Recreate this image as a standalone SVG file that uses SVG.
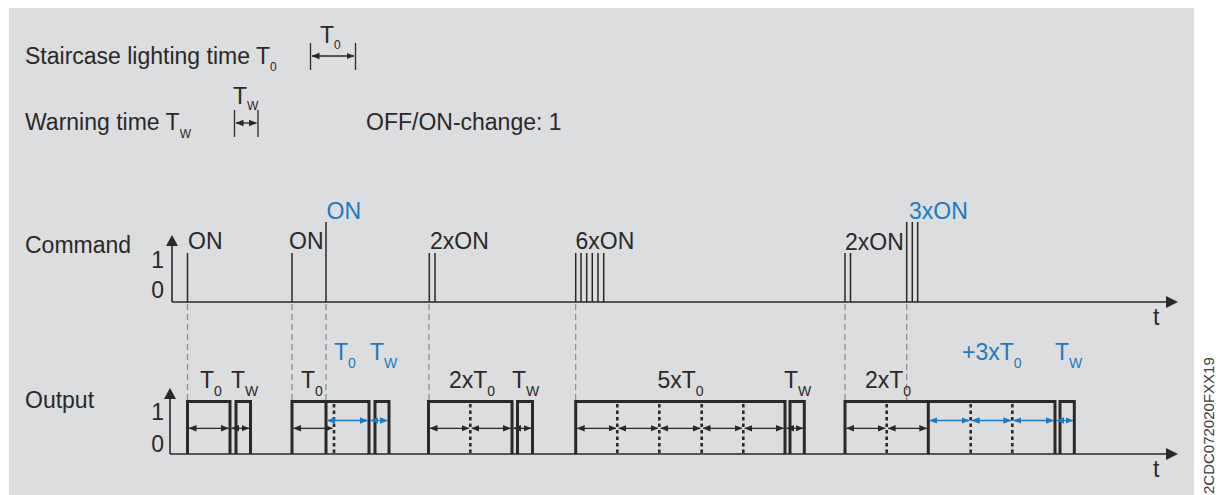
<svg xmlns="http://www.w3.org/2000/svg" width="1227" height="495" viewBox="0 0 1227 495">
<defs>
<style>
text{font-family:"Liberation Sans",Arial,sans-serif;fill:#2a2829}
.lb{font-size:23px}
.sub{font-size:14px}
.bl{fill:#1a7ac4}
.ax{stroke:#2a2829;stroke-width:1.6;fill:none}
.cmd{stroke:#2a2829;stroke-width:1.5;fill:none}
.out{stroke:#2a2829;stroke-width:3;fill:none;stroke-linejoin:miter}
.dot{stroke:#2a2829;stroke-width:2.6;stroke-dasharray:3.5,3;fill:none}
.dash{stroke:#8a8a8c;stroke-width:1.2;stroke-dasharray:6,4;fill:none}
.dim{stroke:#2a2829;stroke-width:1.3;fill:none;marker-start:url(#ak);marker-end:url(#ak)}
.dimb{stroke:#1a7ac4;stroke-width:1.3;fill:none;marker-start:url(#ab);marker-end:url(#ab)}
.leg{stroke:#2a2829;stroke-width:1.3;fill:none}
</style>
<marker id="ak" viewBox="0 0 8 8" refX="7.5" refY="4" markerWidth="8" markerHeight="8" markerUnits="userSpaceOnUse" orient="auto-start-reverse"><path d="M0,0.8 L8,4 L0,7.2 Z" fill="#2a2829"/></marker>
<marker id="ab" viewBox="0 0 8 8" refX="7.5" refY="4" markerWidth="8" markerHeight="8" markerUnits="userSpaceOnUse" orient="auto-start-reverse"><path d="M0,0.8 L8,4 L0,7.2 Z" fill="#1a7ac4"/></marker>
</defs>
<rect x="0" y="0" width="1227" height="495" fill="#ffffff"/>
<rect x="9" y="8" width="1185" height="487" fill="#dcdddf"/>

<g id="legend">
<text class="lb" x="25" y="64">Staircase lighting time T<tspan font-size="12" dy="7">0</tspan></text>
<line class="leg" x1="310.5" y1="43" x2="310.5" y2="70"/>
<line class="leg" x1="355.5" y1="43" x2="355.5" y2="70"/>
<line class="dim" x1="312" y1="56" x2="354" y2="56"/>
<text class="lb" x="320" y="43">T<tspan font-size="12" dy="6">0</tspan></text>
<text class="lb" x="25" y="130">Warning time T<tspan font-size="12" dy="8">W</tspan></text>
<line class="leg" x1="234.5" y1="110" x2="234.5" y2="137"/>
<line class="leg" x1="258" y1="110" x2="258" y2="137"/>
<line class="dim" x1="236" y1="123" x2="256.5" y2="123"/>
<text class="lb" x="233" y="104">T<tspan font-size="12" dy="6">W</tspan></text>
<text class="lb" x="366" y="130">OFF/ON-change: 1</text>
</g>

<g id="command">
<text class="lb" x="25" y="253">Command</text>
<text class="lb" x="164" y="267.5" text-anchor="end">1</text>
<text class="lb" x="164" y="297.7" text-anchor="end">0</text>
<path class="ax" d="M172,302 V243 M172,302 H1168"/>
<path d="M166,246 L172,235 L178,246 Z" fill="#2a2829"/>
<path d="M1166,296 L1178,302 L1166,308 Z" fill="#2a2829"/>
<text class="lb" x="1153" y="325">t</text>
<path class="cmd" d="M187.5,302 V253 M292,302 V253 M326,302 V222 M429.3,302 V253 M435,302 V253 M575.7,302 V253 M581,302 V253 M586.7,302 V253 M592.3,302 V253 M598,302 V253 M603.7,302 V253 M845,302 V253 M850.5,302 V253 M906.7,302 V222 M912.3,302 V222 M917.7,302 V222"/>
<text class="lb" x="188" y="249">ON</text>
<text class="lb" x="289" y="249">ON</text>
<text class="lb bl" x="326.5" y="219">ON</text>
<text class="lb" x="430" y="249">2xON</text>
<text class="lb" x="575.5" y="249">6xON</text>
<text class="lb" x="845" y="250">2xON</text>
<text class="lb bl" x="909" y="219">3xON</text>
</g>

<g id="connectors">
<path class="dash" d="M187.5,304 V400 M292,304 V400 M326,304 V400 M429,304 V400 M575.7,304 V400 M845,304 V400 M906.7,304 V400"/>
</g>

<g id="output">
<text class="lb" x="25" y="407.5">Output</text>
<text class="lb" x="164" y="420" text-anchor="end">1</text>
<text class="lb" x="164" y="451.5" text-anchor="end">0</text>
<path class="ax" d="M170,454 V397 M170,454 H1168"/>
<path d="M164,399 L170,388 L176,399 Z" fill="#2a2829"/>
<path d="M1166,448 L1178,454 L1166,460 Z" fill="#2a2829"/>
<text class="lb" x="1153" y="477">t</text>
</g>

<g id="pulse1">
<path class="out" d="M187.5,454 V401.5 H230 V454 M236,454 V401.5 H250.5 V454"/>
<line class="dim" x1="189" y1="428.3" x2="228.5" y2="428.3"/>
<line class="dim" x1="231.5" y1="428.3" x2="249" y2="428.3"/>
<text class="lb" x="200" y="388">T<tspan class="sub" dy="8">0</tspan></text>
<text class="lb" x="231" y="388">T<tspan class="sub" dy="8">W</tspan></text>
</g>

<g id="pulse2">
<path class="out" d="M292,454 V401.5 H369 V454 M326,401.5 V454 M375,454 V401.5 H389 V454"/>
<line class="dot" x1="334" y1="404" x2="334" y2="454"/>
<line class="dim" x1="293.5" y1="428.3" x2="332.5" y2="428.3"/>
<line class="dimb" x1="327.5" y1="420.5" x2="367.5" y2="420.5"/>
<line class="dimb" x1="370.5" y1="420.5" x2="387.5" y2="420.5"/>
<text class="lb" x="301" y="388">T<tspan class="sub" dy="8">0</tspan></text>
<text class="lb bl" x="334" y="360">T<tspan class="sub bl" dy="8">0</tspan></text>
<text class="lb bl" x="370" y="360">T<tspan class="sub bl" dy="8">W</tspan></text>
</g>

<g id="pulse3">
<path class="out" d="M428.5,454 V401.5 H512 V454 M517.5,454 V401.5 H532.5 V454"/>
<line class="dot" x1="470.3" y1="404" x2="470.3" y2="454"/>
<line class="dim" x1="430" y1="428.3" x2="469" y2="428.3"/>
<line class="dim" x1="471.7" y1="428.3" x2="510.5" y2="428.3"/>
<line class="dim" x1="513.5" y1="428.3" x2="531" y2="428.3"/>
<text class="lb" x="449" y="388">2xT<tspan class="sub" dy="8">0</tspan></text>
<text class="lb" x="512" y="388">T<tspan class="sub" dy="8">W</tspan></text>
</g>

<g id="pulse4">
<path class="out" d="M575.7,454 V401.5 H785 V454 M790,454 V401.5 H804.3 V454"/>
<path class="dot" d="M617.3,404 V454 M659.3,404 V454 M701.7,404 V454 M743.3,404 V454"/>
<line class="dim" x1="577.2" y1="428.3" x2="616" y2="428.3"/>
<line class="dim" x1="618.7" y1="428.3" x2="658" y2="428.3"/>
<line class="dim" x1="660.7" y1="428.3" x2="700.3" y2="428.3"/>
<line class="dim" x1="703" y1="428.3" x2="742" y2="428.3"/>
<line class="dim" x1="744.7" y1="428.3" x2="783.5" y2="428.3"/>
<line class="dim" x1="786.5" y1="428.3" x2="803" y2="428.3"/>
<text class="lb" x="657.5" y="388">5xT<tspan class="sub" dy="8">0</tspan></text>
<text class="lb" x="784" y="388">T<tspan class="sub" dy="8">W</tspan></text>
</g>

<g id="pulse5">
<path class="out" d="M845,454 V401.5 H1055 V454 M928.3,401.5 V454 M1060,454 V401.5 H1074.3 V454"/>
<path class="dot" d="M886.7,404 V454 M970.7,404 V454 M1012.3,404 V454"/>
<line class="dim" x1="846.5" y1="428.3" x2="885.3" y2="428.3"/>
<line class="dim" x1="888.1" y1="428.3" x2="926.8" y2="428.3"/>
<line class="dimb" x1="929.8" y1="420.5" x2="969.3" y2="420.5"/>
<line class="dimb" x1="972.1" y1="420.5" x2="1010.9" y2="420.5"/>
<line class="dimb" x1="1013.7" y1="420.5" x2="1053.5" y2="420.5"/>
<line class="dimb" x1="1056.5" y1="420.5" x2="1073" y2="420.5"/>
<text class="lb" x="865" y="388">2xT<tspan class="sub" dy="8">0</tspan></text>
<text class="lb bl" x="962" y="360">+3xT<tspan class="sub bl" dy="8">0</tspan></text>
<text class="lb bl" x="1055" y="360">T<tspan class="sub bl" dy="8">W</tspan></text>
</g>

<text x="1213.5" y="494" transform="rotate(-90 1213.5 494)" font-size="15" fill="#3a3a3a" style="fill:#3a3a3a">2CDC072020FXX19</text>
</svg>
